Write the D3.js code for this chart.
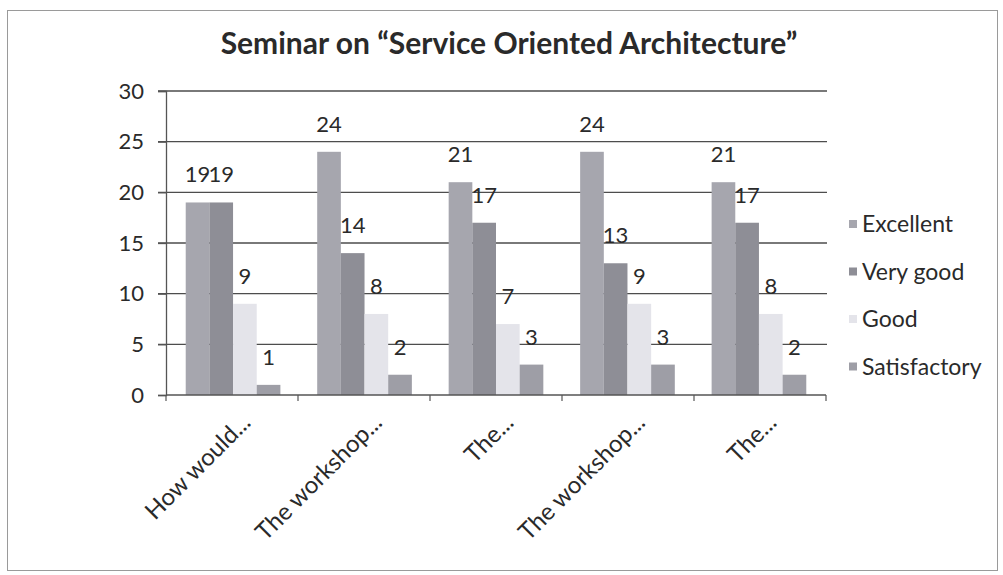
<!DOCTYPE html>
<html><head><meta charset="utf-8">
<script src="https://cdn.jsdelivr.net/npm/d3@7"></script>
<style>
html,body{margin:0;padding:0;background:#fff;}
text{font-family:Lato,"Open Sans",sans-serif;fill:#2a2a2a;}
</style></head>
<body>
<svg id="chart" width="1003" height="575"></svg>
<script>
const categories = ["How would...", "The workshop...", "The...", "The workshop...", "The..."];
const seriesNames = ["Excellent", "Very good", "Good", "Satisfactory"];
const excellent    = [19, 24, 21, 24, 21];
const veryGood     = [19, 14, 17, 13, 17];
const good         = [9, 8, 7, 9, 8];
const satisfactory = [1, 2, 3, 3, 2];
const yTicks = [0, 5, 10, 15, 20, 25, 30];
const chartTitle = "Seminar on \u201CService Oriented Architecture\u201D";

const seriesValues = [excellent, veryGood, good, satisfactory];
const colors = ["#a6a6ae", "#8e8e96", "#e4e4ea", "#9e9ea6"];

const svg = d3.select("#chart");
const plotLeft = 166, plotRight = 826, plotTop = 91, plotBottom = 395;

// outer frame
svg.append("rect").attr("x", 7.5).attr("y", 10.5).attr("width", 990).attr("height", 560)
  .attr("fill", "none").attr("stroke", "#9a9a9a").attr("stroke-width", 1);

const x0 = d3.scaleBand().domain(d3.range(categories.length)).range([plotLeft, plotRight])
  .paddingInner(0.28).paddingOuter(0.15);
const x1 = d3.scaleBand().domain(d3.range(seriesNames.length)).range([0, x0.bandwidth()]);
const y = d3.scaleLinear().domain([0, 30]).range([plotBottom, plotTop]);

// gridlines
svg.append("g").selectAll("line").data(yTicks.filter(d => d > 0)).join("line")
  .attr("x1", plotLeft - 8).attr("x2", plotRight + 1)
  .attr("y1", d => y(d)).attr("y2", d => y(d))
  .attr("stroke", "#4d4d4d").attr("stroke-width", 1.3);

// y axis
const yAxis = svg.append("g").attr("transform", `translate(${plotLeft},0)`)
  .call(d3.axisLeft(y).tickValues(yTicks).tickSize(8).tickPadding(14));
yAxis.select(".domain").attr("stroke", "#555").attr("stroke-width", 1.3);
yAxis.selectAll(".tick line").attr("stroke", "#555").attr("stroke-width", 1.3);
yAxis.selectAll(".tick text").attr("font-size", 22).attr("fill", "#2a2a2a")
  .style("font-family", "Lato, sans-serif");

// bars
const groups = svg.append("g").selectAll("g").data(categories).join("g")
  .attr("transform", (d, i) => `translate(${x0(i)},0)`);
groups.each(function(c, i) {
  const g = d3.select(this);
  const vals = seriesValues.map((s, k) => ({k, v: s[i]}));
  g.selectAll("rect").data(vals).join("rect")
    .attr("x", d => x1(d.k)).attr("width", x1.bandwidth())
    .attr("y", d => y(d.v)).attr("height", d => y(0) - y(d.v))
    .attr("fill", d => colors[d.k]);
  g.selectAll("text").data(vals).join("text")
    .attr("x", d => x1(d.k) + x1.bandwidth() / 2)
    .attr("y", d => y(d.v) - 20)
    .attr("text-anchor", "middle").attr("font-size", 22)
    .text(d => d.v);
});

// x axis
const xAxisG = svg.append("g");
xAxisG.append("line").attr("x1", plotLeft).attr("x2", plotRight).attr("y1", plotBottom).attr("y2", plotBottom)
  .attr("stroke", "#555").attr("stroke-width", 1.3);
const bounds = d3.range(categories.length + 1).map(i => plotLeft + i * (plotRight - plotLeft) / categories.length);
xAxisG.selectAll("line.tk").data(bounds).join("line").attr("class", "tk")
  .attr("x1", d => d).attr("x2", d => d).attr("y1", plotBottom).attr("y2", plotBottom + 6)
  .attr("stroke", "#555").attr("stroke-width", 1.2);
xAxisG.selectAll("text").data(categories).join("text")
  .attr("transform", (d, i) => `translate(${x0(i) + x0.bandwidth() / 2 + 13},418) rotate(-45)`)
  .attr("text-anchor", "end").attr("dy", "0.35em").attr("font-size", 24)
  .text(d => d);

// title
svg.append("text").attr("x", 509).attr("y", 54).attr("text-anchor", "middle")
  .attr("font-size", 30).attr("font-weight", "bold").attr("fill", "#222").text(chartTitle);

// legend
const lg = svg.append("g").selectAll("g").data(seriesNames).join("g")
  .attr("transform", (d, i) => `translate(849,${224 + i * 47.5})`);
lg.append("rect").attr("x", 0).attr("y", -4).attr("width", 8).attr("height", 8)
  .attr("fill", (d, i) => colors[i]);
lg.append("text").attr("x", 13).attr("dy", "0.35em").attr("font-size", 23).text(d => d);
</script>
</body></html>
